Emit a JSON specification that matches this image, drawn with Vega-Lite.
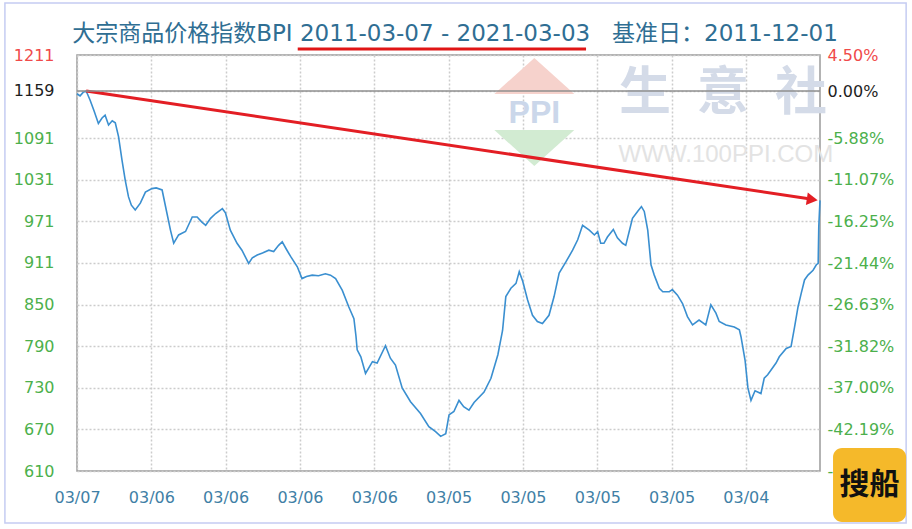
{
  "$schema": "https://vega.github.io/schema/vega-lite/v6.json",
  "width": 743,
  "height": 416,
  "autosize": {"type": "none"},
  "padding": {"left": 77, "top": 55, "right": 92, "bottom": 58},
  "background": "white",
  "config": {
    "view": {"stroke": "#9a9a9a", "strokeWidth": 1.5},
    "font": "DejaVu Sans"
  },
  "title": {
    "text": "大宗商品价格指数BPI 2011-03-07 - 2021-03-03\u00a0\u00a0\u00a0基准日：2011-12-01",
    "anchor": "start",
    "font": "DejaVu Sans, Noto Sans CJK SC",
    "fontSize": 23,
    "fontWeight": "normal",
    "color": "#2f6e93",
    "offset": 0,
    "dy": 44,
    "dx": 68
  },
  "layer": [
    {
      "layer": [
        {
          "data": {"values": [{}]},
          "mark": {"type": "text", "font": "Noto Sans CJK SC", "fontSize": 52, "fontWeight": "bold", "color": "#d4dbe8", "align": "center", "baseline": "middle"},
          "encoding": {
            "x": {"datum": {"year": 2019, "month": 11, "date": 13}, "type": "temporal"},
            "y": {"datum": 1154, "type": "quantitative"},
            "text": {"value": "生\u2002意\u2002社"}
          }
        },
        {
          "data": {"values": [{}]},
          "mark": {"type": "text", "font": "Liberation Sans", "fontSize": 24, "color": "#e3e3e3", "align": "center", "baseline": "middle"},
          "encoding": {
            "x": {"datum": {"year": 2019, "month": 11, "date": 27}, "type": "temporal"},
            "y": {"datum": 1066.5, "type": "quantitative"},
            "text": {"value": "WWW.100PPI.COM"}
          }
        },
        {
          "data": {"values": [{}]},
          "mark": {"type": "point", "filled": true, "shape": "M0,-0.45L1,0.45L-1,0.45Z", "size": 6400, "color": "#f6d2cc", "opacity": 1},
          "encoding": {
            "x": {"datum": {"year": 2017, "month": 4, "date": 30}, "type": "temporal"},
            "y": {"datum": 1180.7, "type": "quantitative"}
          }
        },
        {
          "data": {"values": [{}]},
          "mark": {"type": "point", "filled": true, "shape": "M-1,-0.45L1,-0.45L0,0.45Z", "size": 6400, "color": "#d2ebd2", "opacity": 1},
          "encoding": {
            "x": {"datum": {"year": 2017, "month": 4, "date": 30}, "type": "temporal"},
            "y": {"datum": 1076.6, "type": "quantitative"}
          }
        },
        {
          "data": {"values": [{}]},
          "mark": {"type": "text", "font": "Liberation Sans", "fontSize": 32, "fontWeight": "bold", "color": "#cbd7ea", "align": "center", "baseline": "middle"},
          "encoding": {
            "x": {"datum": {"year": 2017, "month": 4, "date": 30}, "type": "temporal"},
            "y": {"datum": 1127.2, "type": "quantitative"},
            "text": {"value": "PPI"}
          }
        },
        {
          "data": {
            "values": [
              {"date": "2011/03/07", "bpi": 1155}, {"date": "2011/03/22", "bpi": 1152}, {"date": "2011/04/06", "bpi": 1157},
              {"date": "2011/04/21", "bpi": 1159}, {"date": "2011/05/10", "bpi": 1146}, {"date": "2011/05/30", "bpi": 1130},
              {"date": "2011/06/20", "bpi": 1112}, {"date": "2011/07/08", "bpi": 1120}, {"date": "2011/07/23", "bpi": 1124},
              {"date": "2011/08/09", "bpi": 1110}, {"date": "2011/08/27", "bpi": 1116}, {"date": "2011/09/11", "bpi": 1113},
              {"date": "2011/09/27", "bpi": 1093}, {"date": "2011/10/14", "bpi": 1059}, {"date": "2011/10/30", "bpi": 1030},
              {"date": "2011/11/15", "bpi": 1006}, {"date": "2011/11/29", "bpi": 994}, {"date": "2011/12/18", "bpi": 987},
              {"date": "2012/01/12", "bpi": 997}, {"date": "2012/02/06", "bpi": 1013}, {"date": "2012/03/09", "bpi": 1018},
              {"date": "2012/03/30", "bpi": 1019}, {"date": "2012/04/28", "bpi": 1016}, {"date": "2012/05/22", "bpi": 982},
              {"date": "2012/06/08", "bpi": 958}, {"date": "2012/06/24", "bpi": 939}, {"date": "2012/07/18", "bpi": 951},
              {"date": "2012/08/21", "bpi": 956}, {"date": "2012/09/23", "bpi": 977}, {"date": "2012/10/17", "bpi": 977},
              {"date": "2012/11/08", "bpi": 970}, {"date": "2012/11/28", "bpi": 965}, {"date": "2012/12/22", "bpi": 975},
              {"date": "2013/01/16", "bpi": 982}, {"date": "2013/02/18", "bpi": 989}, {"date": "2013/03/05", "bpi": 983},
              {"date": "2013/03/29", "bpi": 958}, {"date": "2013/05/01", "bpi": 939}, {"date": "2013/05/25", "bpi": 929},
              {"date": "2013/06/27", "bpi": 910}, {"date": "2013/07/15", "bpi": 918}, {"date": "2013/08/08", "bpi": 922},
              {"date": "2013/09/03", "bpi": 925}, {"date": "2013/10/04", "bpi": 929}, {"date": "2013/10/28", "bpi": 927},
              {"date": "2013/11/21", "bpi": 936}, {"date": "2013/12/09", "bpi": 941}, {"date": "2013/12/30", "bpi": 930},
              {"date": "2014/01/19", "bpi": 920}, {"date": "2014/02/21", "bpi": 905}, {"date": "2014/03/16", "bpi": 888},
              {"date": "2014/04/07", "bpi": 891}, {"date": "2014/05/05", "bpi": 893}, {"date": "2014/06/05", "bpi": 892},
              {"date": "2014/07/09", "bpi": 895}, {"date": "2014/08/03", "bpi": 893}, {"date": "2014/08/28", "bpi": 888},
              {"date": "2014/09/30", "bpi": 871}, {"date": "2014/11/01", "bpi": 847}, {"date": "2014/11/26", "bpi": 830},
              {"date": "2014/12/06", "bpi": 805}, {"date": "2014/12/12", "bpi": 785}, {"date": "2014/12/30", "bpi": 775},
              {"date": "2015/01/22", "bpi": 751}, {"date": "2015/02/25", "bpi": 768}, {"date": "2015/03/20", "bpi": 766},
              {"date": "2015/04/30", "bpi": 791}, {"date": "2015/05/24", "bpi": 773}, {"date": "2015/06/18", "bpi": 763},
              {"date": "2015/07/21", "bpi": 730}, {"date": "2015/08/31", "bpi": 710}, {"date": "2015/10/19", "bpi": 693},
              {"date": "2015/11/29", "bpi": 674}, {"date": "2016/01/01", "bpi": 667}, {"date": "2016/01/26", "bpi": 660},
              {"date": "2016/02/20", "bpi": 664}, {"date": "2016/03/07", "bpi": 691}, {"date": "2016/03/31", "bpi": 696},
              {"date": "2016/04/25", "bpi": 712}, {"date": "2016/05/18", "bpi": 703}, {"date": "2016/06/13", "bpi": 698},
              {"date": "2016/07/08", "bpi": 709}, {"date": "2016/08/26", "bpi": 724}, {"date": "2016/09/29", "bpi": 744},
              {"date": "2016/11/02", "bpi": 778}, {"date": "2016/11/25", "bpi": 813}, {"date": "2016/12/11", "bpi": 862},
              {"date": "2017/01/05", "bpi": 874}, {"date": "2017/01/30", "bpi": 881}, {"date": "2017/02/15", "bpi": 898},
              {"date": "2017/03/04", "bpi": 884}, {"date": "2017/03/28", "bpi": 857}, {"date": "2017/04/21", "bpi": 835},
              {"date": "2017/05/15", "bpi": 826}, {"date": "2017/06/09", "bpi": 823}, {"date": "2017/07/11", "bpi": 835},
              {"date": "2017/08/05", "bpi": 862}, {"date": "2017/08/30", "bpi": 896}, {"date": "2017/10/02", "bpi": 912},
              {"date": "2017/11/04", "bpi": 929}, {"date": "2017/11/29", "bpi": 944}, {"date": "2017/12/23", "bpi": 965},
              {"date": "2018/01/25", "bpi": 958}, {"date": "2018/02/19", "bpi": 951}, {"date": "2018/03/07", "bpi": 956},
              {"date": "2018/03/22", "bpi": 939}, {"date": "2018/04/07", "bpi": 939}, {"date": "2018/04/24", "bpi": 948},
              {"date": "2018/05/23", "bpi": 959}, {"date": "2018/06/12", "bpi": 947}, {"date": "2018/07/07", "bpi": 939},
              {"date": "2018/07/23", "bpi": 936}, {"date": "2018/08/08", "bpi": 955}, {"date": "2018/08/25", "bpi": 975},
              {"date": "2018/09/19", "bpi": 985}, {"date": "2018/10/08", "bpi": 992}, {"date": "2018/10/22", "bpi": 985},
              {"date": "2018/11/08", "bpi": 958}, {"date": "2018/11/24", "bpi": 908}, {"date": "2018/12/10", "bpi": 893},
              {"date": "2019/01/04", "bpi": 874}, {"date": "2019/01/21", "bpi": 869}, {"date": "2019/02/22", "bpi": 869},
              {"date": "2019/03/09", "bpi": 872}, {"date": "2019/04/03", "bpi": 864}, {"date": "2019/04/28", "bpi": 852},
              {"date": "2019/05/22", "bpi": 833}, {"date": "2019/06/16", "bpi": 821}, {"date": "2019/07/18", "bpi": 828},
              {"date": "2019/08/20", "bpi": 821}, {"date": "2019/09/14", "bpi": 850}, {"date": "2019/10/09", "bpi": 838},
              {"date": "2019/10/25", "bpi": 826}, {"date": "2019/11/27", "bpi": 821}, {"date": "2020/01/07", "bpi": 818},
              {"date": "2020/02/01", "bpi": 814}, {"date": "2020/02/09", "bpi": 804}, {"date": "2020/02/29", "bpi": 770},
              {"date": "2020/03/14", "bpi": 730}, {"date": "2020/03/29", "bpi": 712}, {"date": "2020/04/18", "bpi": 726},
              {"date": "2020/05/17", "bpi": 722}, {"date": "2020/06/02", "bpi": 744}, {"date": "2020/06/19", "bpi": 749},
              {"date": "2020/07/30", "bpi": 766}, {"date": "2020/08/15", "bpi": 775}, {"date": "2020/09/18", "bpi": 787},
              {"date": "2020/10/12", "bpi": 790}, {"date": "2020/10/29", "bpi": 818}, {"date": "2020/11/15", "bpi": 847},
              {"date": "2020/12/01", "bpi": 867}, {"date": "2020/12/17", "bpi": 886}, {"date": "2021/01/03", "bpi": 893},
              {"date": "2021/01/28", "bpi": 900}, {"date": "2021/02/13", "bpi": 908}, {"date": "2021/02/22", "bpi": 910},
              {"date": "2021/02/25", "bpi": 963}, {"date": "2021/03/03", "bpi": 1001}
            ]
          },
          "mark": {"type": "line", "color": "#3a8fd0", "strokeWidth": 1.6},
          "encoding": {
            "x": {
              "field": "date",
              "type": "temporal",
              "scale": {"domain": [{"year": 2011, "month": 3, "date": 7}, {"year": 2021, "month": 3, "date": 3}]},
              "axis": {
                "title": null,
                "values": [
                  {"year": 2011, "month": 3, "date": 7}, {"year": 2012, "month": 3, "date": 6}, {"year": 2013, "month": 3, "date": 6},
                  {"year": 2014, "month": 3, "date": 6}, {"year": 2015, "month": 3, "date": 6}, {"year": 2016, "month": 3, "date": 5},
                  {"year": 2017, "month": 3, "date": 5}, {"year": 2018, "month": 3, "date": 5}, {"year": 2019, "month": 3, "date": 5},
                  {"year": 2020, "month": 3, "date": 4}
                ],
                "format": "%m/%d",
                "ticks": false,
                "domain": false,
                "grid": true,
                "gridColor": "#cccccc",
                "gridDash": [2, 2],
                "gridWidth": 1.5,
                "labelColor": "#3f7fa6",
                "labelFont": "DejaVu Sans",
                "labelFontSize": 16,
                "labelPadding": 18,
                "labelFlush": false,
                "labelOverlap": false
              }
            },
            "y": {
              "field": "bpi",
              "type": "quantitative",
              "scale": {"domain": [610, 1211], "nice": false, "zero": false},
              "axis": {
                "title": null,
                "orient": "left",
                "format": "d",
                "values": [610, 670, 730, 790, 850, 911, 971, 1031, 1091, 1159, 1211],
                "ticks": false,
                "domain": false,
                "grid": true,
                "gridColor": "#cccccc",
                "gridDash": [2, 2],
                "gridWidth": 1.5,
                "labelFont": "DejaVu Sans",
                "labelFontSize": 16,
                "labelPadding": 23,
                "labelFlush": false,
                "labelOverlap": false,
                "labelColor": {
                  "condition": [
                    {"test": "datum.value == 1211", "value": "#f04a4a"},
                    {"test": "datum.value == 1159", "value": "#1e1e1e"}
                  ],
                  "value": "#4cb04c"
                }
              }
            }
          }
        },
        {
          "data": {"values": [{}]},
          "mark": {"type": "rule", "color": "#e31e24", "strokeWidth": 3},
          "encoding": {
            "x": {"datum": {"year": 2011, "month": 4, "date": 21}, "type": "temporal"},
            "y": {"datum": 1159, "type": "quantitative"},
            "x2": {"datum": {"year": 2020, "month": 12, "date": 30}},
            "y2": {"datum": 1003.7}
          }
        },
        {
          "data": {"values": [{}]},
          "mark": {"type": "point", "shape": "triangle-right", "filled": true, "size": 160, "angle": 8.5, "color": "#e31e24", "opacity": 1},
          "encoding": {
            "x": {"datum": {"year": 2021, "month": 1, "date": 24}, "type": "temporal"},
            "y": {"datum": 1002.2, "type": "quantitative"}
          }
        },
        {
          "data": {"values": [{}]},
          "mark": {"type": "rule", "color": "#e01515", "strokeWidth": 3},
          "encoding": {
            "x": {"datum": {"year": 2014, "month": 2, "date": 23}, "type": "temporal"},
            "x2": {"datum": {"year": 2018, "month": 1, "date": 9}},
            "y": {"datum": 1219.7, "type": "quantitative"}
          }
        },
        {
          "data": {"values": [{}]},
          "mark": {"type": "rect", "fill": "transparent", "stroke": "#c5ccf2", "strokeWidth": 1.5},
          "encoding": {
            "x": {"datum": {"year": 2010, "month": 3, "date": 18}, "type": "temporal"},
            "x2": {"datum": {"year": 2022, "month": 4, "date": 30}},
            "y": {"datum": 1286.1, "type": "quantitative"},
            "y2": {"datum": 534.9}
          }
        },
        {
          "data": {"values": [{}]},
          "mark": {"type": "rect", "fill": "#f5b92a", "cornerRadius": 9},
          "encoding": {
            "x": {"datum": {"year": 2021, "month": 5, "date": 6}, "type": "temporal"},
            "x2": {"datum": {"year": 2022, "month": 4, "date": 30}},
            "y": {"datum": 643.2, "type": "quantitative"},
            "y2": {"datum": 536.3}
          }
        },
        {
          "data": {"values": [{}]},
          "mark": {"type": "text", "font": "Noto Sans CJK SC", "fontSize": 30, "fontWeight": "bold", "color": "#111111", "align": "center", "baseline": "middle"},
          "encoding": {
            "x": {"datum": {"year": 2021, "month": 11, "date": 1}, "type": "temporal"},
            "y": {"datum": 589.8, "type": "quantitative"},
            "text": {"value": "搜船"}
          }
        }
      ]
    },
    {
      "data": {"values": [{}]},
      "mark": {"type": "rule", "color": "#8f8f8f", "strokeWidth": 1.5},
      "encoding": {
        "y": {
          "datum": 0,
          "type": "quantitative",
          "scale": {"domain": [-47.38, 4.5], "nice": false, "zero": false},
          "axis": {
            "title": null,
            "orient": "right",
            "values": [-47.38, -42.19, -37.0, -31.82, -26.63, -21.44, -16.25, -11.07, -5.88, 0, 4.5],
            "labelExpr": "(datum.value < 0 ? '-' : '') + format(abs(datum.value), '.2f') + '%'",
            "ticks": false,
            "domain": false,
            "grid": false,
            "labelFont": "DejaVu Sans",
            "labelFontSize": 16,
            "labelPadding": 7,
            "labelFlush": false,
            "labelOverlap": false,
            "labelColor": {
              "condition": [
                {"test": "datum.value == 4.5", "value": "#f04a4a"},
                {"test": "datum.value == 0", "value": "#1e1e1e"}
              ],
              "value": "#4cb04c"
            }
          }
        }
      }
    }
  ],
  "resolve": {"scale": {"y": "independent"}}
}
